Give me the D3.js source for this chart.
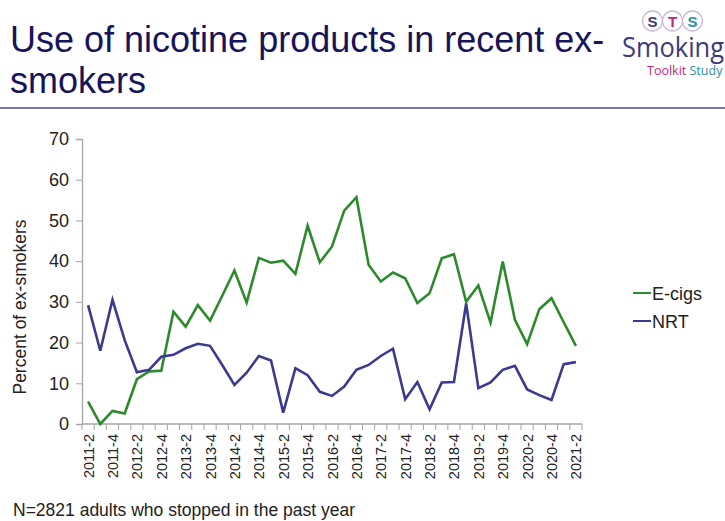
<!DOCTYPE html>
<html>
<head>
<meta charset="utf-8">
<script src="https://cdn.jsdelivr.net/npm/d3@7"></script>
<style>
  html, body { margin: 0; padding: 0; background: #fff; }
  svg { display: block; font-family: "Liberation Sans", Arial, sans-serif; }
</style>
</head>
<body>
<svg id="chart" width="725" height="521"></svg>
<script>
// Quarterly survey waves, 2011 Q2 to 2021 Q2
const quarters = [
  "2011-2","2011-3","2011-4","2012-1","2012-2","2012-3","2012-4","2013-1","2013-2","2013-3",
  "2013-4","2014-1","2014-2","2014-3","2014-4","2015-1","2015-2","2015-3","2015-4","2016-1",
  "2016-2","2016-3","2016-4","2017-1","2017-2","2017-3","2017-4","2018-1","2018-2","2018-3",
  "2018-4","2019-1","2019-2","2019-3","2019-4","2020-1","2020-2","2020-3","2020-4","2021-1",
  "2021-2"
];

// Percent of recent ex-smokers using each product
const ecigs = [
  5.5, 0, 3.2, 2.6, 11, 12.9, 13.1, 27.6, 23.9, 29.2,
  25.4, 31.5, 37.7, 29.8, 40.8, 39.6, 40.1, 36.9, 48.7, 39.7,
  43.6, 52.4, 55.7, 39.1, 35.0, 37.2, 35.8, 29.7, 32.1, 40.7,
  41.7, 30.0, 34.0, 24.9, 39.9, 25.6, 19.6, 28.2, 30.9, 25.0,
  19.2
];
const nrt = [
  29.2, 18.0, 30.5, 20.6, 12.7, 13.3, 16.5, 17.0, 18.6, 19.7,
  19.2, 14.5, 9.6, 12.6, 16.7, 15.6, 2.8, 13.7, 12.0, 7.9,
  6.9, 9.2, 13.3, 14.5, 16.7, 18.5, 6.1, 10.3, 3.6, 10.2,
  10.3, 29.6, 8.8, 10.2, 13.3, 14.3, 8.5, 7.1, 5.9, 14.7,
  15.2
];

const yTicks = [0, 10, 20, 30, 40, 50, 60, 70];

const series = [
  { name: "E-cigs", values: ecigs, color: "#2b8a2b" },
  { name: "NRT", values: nrt, color: "#3b3a8e" }
];

const svg = d3.select("#chart");

// Title block
const title = svg.append("text")
  .attr("fill", "#16145a")
  .attr("font-size", 36)
  .attr("font-family", "'Liberation Sans', Arial, sans-serif");
title.append("tspan").attr("x", 10).attr("y", 52).text("Use of nicotine products in recent ex-");
title.append("tspan").attr("x", 10).attr("y", 93).text("smokers");

svg.append("line")
  .attr("x1", 0).attr("x2", 725)
  .attr("y1", 108).attr("y2", 108)
  .attr("stroke", "#7a78b4").attr("stroke-width", 2);

// Study logo
const logo = svg.append("g");
const rings = [
  { l: "S", c: "#3c3a7a", cx: 652.5 },
  { l: "T", c: "#c2287c", cx: 672.5 },
  { l: "S", c: "#2a8fa6", cx: 692.5 }
];
rings.forEach(r => {
  logo.append("circle").attr("cx", r.cx).attr("cy", 21).attr("r", 10)
    .attr("fill", "#fff").attr("stroke", "#c9b8dc").attr("stroke-width", 1.3);
  logo.append("text").attr("x", r.cx).attr("y", 26.5)
    .attr("text-anchor", "middle").attr("font-size", 15).attr("font-weight", "bold")
    .attr("fill", r.c).text(r.l);
});
logo.append("text").attr("x", 622).attr("y", 57)
  .attr("font-size", 27).attr("fill", "#3c3a7a")
  .attr("font-family", "'Liberation Sans Narrow', 'Open Sans', sans-serif")
  .attr("textLength", 102).attr("lengthAdjust", "spacingAndGlyphs")
  .text("Smoking");
const sub = logo.append("text").attr("x", 647).attr("y", 75)
  .attr("font-size", 12.5)
  .attr("font-family", "'Liberation Sans Narrow', 'Open Sans', sans-serif");
sub.append("tspan").attr("fill", "#c2287c").text("Toolkit ");
sub.append("tspan").attr("fill", "#2a8fa6").text("Study");

// Plot area
const plot = { left: 82, right: 582, top: 139, bottom: 424 };

const x = d3.scaleBand()
  .domain(quarters)
  .range([plot.left, plot.right])
  .paddingInner(0).paddingOuter(0);

const y = d3.scaleLinear()
  .domain([0, 70])
  .range([plot.bottom, plot.top]);

// Y axis
const yAxis = d3.axisLeft(y).tickValues(yTicks).tickSize(6).tickPadding(7);
const gy = svg.append("g")
  .attr("transform", `translate(${plot.left},0)`)
  .call(yAxis);
gy.select(".domain").attr("stroke", "#a6a6a6").attr("stroke-width", 1.3);
gy.selectAll(".tick line").attr("stroke", "#a6a6a6");
gy.selectAll(".tick text")
  .attr("font-size", 18).attr("fill", "#222")
  .attr("font-family", "'Liberation Sans', Arial, sans-serif");

svg.append("text")
  .attr("transform", "translate(26,307) rotate(-90)")
  .attr("text-anchor", "middle")
  .attr("font-size", 17.5).attr("fill", "#222")
  .text("Percent of ex-smokers");

// X axis: ticks on category boundaries, labels on every other quarter
const gx = svg.append("g")
  .attr("transform", `translate(0,${plot.bottom})`);
gx.append("line")
  .attr("x1", plot.left).attr("x2", plot.right)
  .attr("stroke", "#a6a6a6").attr("stroke-width", 1.3);
const boundaries = quarters.map(q => x(q)).concat([x(quarters[quarters.length - 1]) + x.bandwidth()]);
gx.selectAll("line.tk").data(boundaries).join("line")
  .attr("class", "tk")
  .attr("x1", d => d).attr("x2", d => d)
  .attr("y1", 0).attr("y2", 6)
  .attr("stroke", "#a6a6a6");
const labelled = quarters.filter((q, i) => i % 2 === 0);
gx.selectAll("text.xl").data(labelled).join("text")
  .attr("class", "xl")
  .attr("transform", d => `translate(${x(d) + x.bandwidth() / 2 + 5.5},10) rotate(-90)`)
  .attr("text-anchor", "end")
  .attr("font-size", 14.5).attr("fill", "#222")
  .text(d => d);

// Series lines
const line = d3.line()
  .x((d, i) => x(quarters[i]) + x.bandwidth() / 2)
  .y(d => y(d));

svg.selectAll("path.series").data(series).join("path")
  .attr("class", "series")
  .attr("d", d => line(d.values))
  .attr("fill", "none")
  .attr("stroke", d => d.color)
  .attr("stroke-width", 2.6)
  .attr("stroke-linejoin", "miter");

// Legend
const legend = svg.append("g");
series.forEach((s, i) => {
  const ly = 293 + i * 28;
  legend.append("line")
    .attr("x1", 633).attr("x2", 651)
    .attr("y1", ly).attr("y2", ly)
    .attr("stroke", s.color).attr("stroke-width", 2);
  legend.append("text")
    .attr("x", 652).attr("y", ly + 6.5)
    .attr("font-size", 18).attr("fill", "#222")
    .text(s.name);
});

// Footnote
svg.append("text")
  .attr("x", 13).attr("y", 516)
  .attr("font-size", 17.5).attr("fill", "#222")
  .text("N=2821 adults who stopped in the past year");
</script>
</body>
</html>
